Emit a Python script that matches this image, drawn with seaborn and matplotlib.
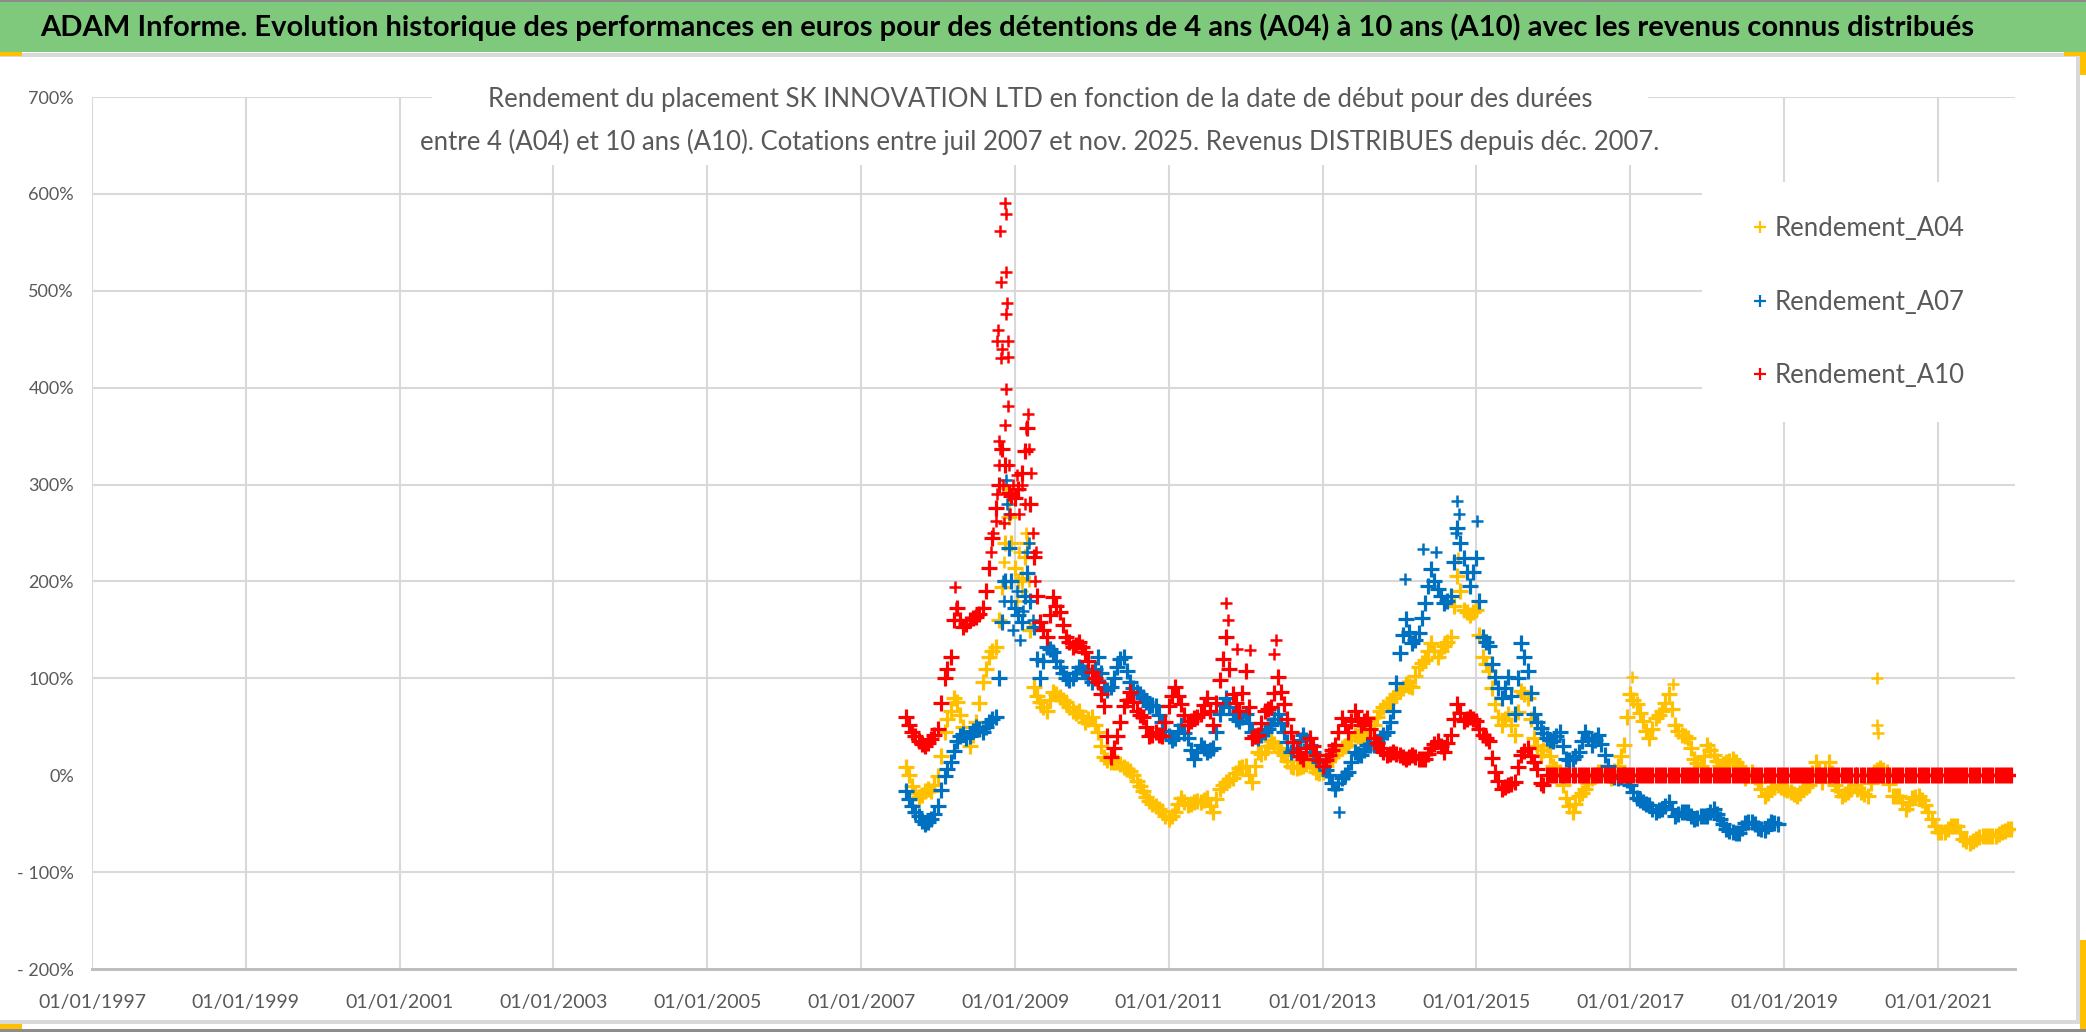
import matplotlib
matplotlib.use("Agg")
import matplotlib.pyplot as plt
import matplotlib.dates as mdates
import pandas as pd
import seaborn as sns
from matplotlib.lines import Line2D
from matplotlib.patches import Rectangle
from matplotlib.ticker import FuncFormatter

# readings in percent, one per month from Aug 2007 (1st of month) ...
a04 = [
    9, -11, -22, -16, -16,
    -1, 45, 66, 76, 50, 30, 55, 96, 122, 132, 194, 266,
    214, 204, 240, 91, 76, 66, 86, 81, 76, 66, 66, 55,
    60, 45, 19, 14, 14, 9, 4, -6, -16, -27, -32, -37,
    -45, -38, -24, -31, -28, -28, -24, -38, -14, -7, -3, 7,
    10, -7, 24, 24, 35, 28, 21, 10, 7, 10, 14, 3,
    3, 17, 21, 28, 31, 42, 38, 45, 52, 66, 73, 80,
    87, 94, 91, 112, 119, 136, 122, 133, 143, 206, 171, 165,
    171, 122, 108, 73, 52, 63, 42, 87, 80, 38, 21, 31,
    10, 3, -24, -38, -21, -14, -3, 3, 3, -3, 10, 31,
    84, 73, 56, 38, 59, 66, 84, 52, 42, 38, 17, 10,
    31, 21, 10, 14, 17, 10, -3, 3, -7, -21, -14, -10,
    -14, -17, -21, -14, -10, 14, -7, 14, -10, -21, -17, -10,
    -17, -21, 3, 7, 3, -21, -21, -35, -24, -21, -31, -45,
    -59, -59, -52, -52, -66, -70, -66, -63, -63, -63, -59, -56,
]
# ... and one per month at mid-month
a04_mid = [
    0, -18, -20, -14, -10,
    20, 58, 80, 62, 38, 42, 75, 110, 128, 160, 240, 240,
    200, 225, 150, 82, 70, 78, 84, 78, 70, 64, 60, 58,
    52, 30, 16, 14, 12, 6, 0, -11, -22, -30, -35, -42,
    -42, -30, -28, -30, -27, -26, -32, -25, -10, -5, 2, 9,
    0, 10, 22, 30, 32, 24, 15, 8, 8, 12, 8, 2,
    10, 19, 25, 30, 36, 40, 42, 48, 60, 70, 76, 84,
    90, 92, 102, 116, 128, 128, 128, 138, 175, 190, 168, 168,
    145, 115, 90, 60, 58, 52, 65, 84, 58, 30, 26, 20,
    6, -10, -32, -30, -18, -8, 0, 3, 0, 4, 20, 60,
    78, 64, 46, 48, 62, 75, 68, 46, 40, 28, 13, 20,
    26, 15, 12, 15, 14, 4, 0, -2, -14, -18, -12, -12,
    -15, -19, -18, -12, 2, 4, 4, 2, -15, -19, -14, -14,
    -19, -8, 5, 5, -9, -21, -28, -30, -22, -26, -38, -52,
    -59, -56, -52, -59, -68, -68, -64, -63, -63, -61, -58, -55,
]
a07 = [
    -16, -32, -42, -50, -45,
    -32, -1, 14, 35, 43, 40, 50, 45, 55, 60, 158, 235,
    173, 158, 209, 153, 100, 132, 127, 112, 100, 100, 112, 107,
    96, 122, 91, 91, 112, 122, 96, 86, 81, 71, 71, 55,
    40, 38, 52, 38, 17, 31, 24, 28, 63, 80, 63, 56,
    63, 45, 38, 45, 52, 63, 45, 24, 28, 42, 31, 17,
    10, 0, -14, -3, 3, 24, 21, 31, 31, 38, 45, 66,
    126, 161, 136, 147, 178, 213, 192, 178, 185, 255, 224, 195,
    224, 143, 133, 101, 80, 101, 63, 136, 108, 63, 49, 38,
    35, 45, 17, 17, 24, 45, 31, 42, 21, 0, -3, 0,
    -10, -24, -28, -31, -38, -35, -28, -42, -38, -38, -45, -42,
    -42, -35, -45, -56, -59, -60, -49, -48, -54, -57, -48, -50,
]
a07_mid = [
    -25, -38, -47, -48, -40,
    -15, 6, 25, 40, 38, 46, 48, 50, 58, 100, 200, 200,
    165, 185, 180, 120, 118, 130, 118, 105, 98, 106, 110, 100,
    110, 105, 88, 100, 120, 108, 90, 84, 76, 72, 62, 46,
    36, 46, 44, 26, 24, 28, 26, 45, 72, 70, 58, 60,
    54, 40, 42, 48, 58, 54, 34, 26, 36, 36, 24, 14,
    5, -8, -8, 0, 14, 22, 26, 31, 34, 42, 55, 95,
    145, 148, 140, 162, 195, 200, 185, 180, 220, 240, 210, 210,
    180, 138, 115, 90, 90, 82, 100, 122, 85, 55, 44, 36,
    40, 30, 16, 20, 35, 38, 36, 32, 10, -2, -2, -5,
    -17, -26, -30, -35, -36, -32, -35, -40, -38, -42, -44, -42,
    -38, -40, -50, -58, -60, -54, -48, -50, -56, -52, -49,
]
a10 = [
    60, 45, 35, 30, 37,
    48, 100, 122, 173, 153, 160, 163, 173, 214, 276, 337, 291,
    286, 312, 358, 225, 158, 143, 184, 168, 143, 132, 137, 127,
    107, 96, 71, 19, 40, 71, 86, 66, 60, 40, 45, 40,
    71, 91, 73, 52, 59, 63, 80, 52, 98, 143, 84, 66,
    108, 38, 42, 66, 70, 101, 73, 45, 24, 17, 38, 21,
    10, 21, 31, 59, 45, 66, 52, 59, 38, 28, 21, 24,
    21, 17, 21, 17, 17, 28, 35, 24, 42, 73, 56, 60,
    56, 42, 35, 3, -14, -10, -7, 21, 28, 14, -8, 0,
    0, 0, 0, 0, 0, 0, 0, 0, 0, 0, 0, 0,
    0, 0, 0, 0, 0, 0, 0, 0, 0, 0, 0, 0,
    0, 0, 0, 0, 0, 0, 0, 0, 0, 0, 0, 0,
    0, 0, 0, 0, 0, 0, 0, 0, 0, 0, 0, 0,
    0, 0, 0, 0, 0, 0, 0, 0, 0, 0, 0, 0,
    0, 0, 0, 0, 0, 0, 0, 0, 0, 0, 0, 0,
]
a10_mid = [
    52, 40, 32, 33, 42,
    75, 110, 160, 160, 156, 162, 166, 190, 245, 300, 320, 288,
    295, 335, 280, 185, 150, 165, 175, 155, 138, 134, 132, 118,
    100, 84, 40, 28, 55, 78, 76, 62, 50, 42, 42, 55,
    82, 82, 62, 56, 60, 72, 66, 75, 120, 110, 75, 85,
    70, 40, 54, 68, 85, 86, 58, 34, 20, 28, 30, 16,
    16, 26, 45, 52, 56, 58, 56, 48, 33, 24, 22, 22,
    19, 19, 19, 17, 22, 32, 30, 33, 58, 64, 58, 58,
    48, 38, 18, -6, -12, -9, 8, 25, 20, 6, -10, 0,
    0, 0, 0, 0, 0, 0, 0, 0, 0, 0, 0, 0,
    0, 0, 0, 0, 0, 0, 0, 0, 0, 0, 0, 0,
    0, 0, 0, 0, 0, 0, 0, 0, 0, 0, 0, 0,
    0, 0, 0, 0, 0, 0, 0, 0, 0, 0, 0, 0,
    0, 0, 0, 0, 0, 0, 0, 0, 0, 0, 0, 0,
    0, 0, 0, 0, 0, 0, 0, 0, 0, 0, 0, 0,
]
first_month = "2007-08-01"

# isolated points and cloud points
a04_extra_dates = ["2008-11-18", "2008-11-10", "2008-12-05", "2008-12-15", "2009-01-10", "2009-01-20",
                   "2009-02-05", "2009-02-20", "2009-03-10", "2014-10-05", "2017-01-10", "2017-07-20",
                   "2020-03-15", "2020-03-17", "2020-03-20"]
a04_extra = [296, 220, 280, 200, 180, 230, 190, 250, 200, 224, 101, 94, 100, 52, 44]
a07_extra_dates = ["2008-11-20", "2008-11-25", "2008-11-05", "2008-11-10", "2008-12-05", "2008-12-12",
                   "2008-12-20", "2009-01-10", "2009-01-25", "2009-02-10", "2009-02-25", "2009-03-10",
                   "2009-03-25", "2013-03-20", "2014-01-25", "2014-04-20", "2014-06-25", "2014-09-25",
                   "2014-10-01", "2014-10-08", "2015-01-05"]
a07_extra = [305, 280, 200, 180, 270, 180, 150, 190, 140, 170, 230, 240, 160, -38, 203, 234, 230, 250,
             283, 270, 262]
a10_extra_dates = ["2008-11-13", "2008-11-20", "2008-10-23", "2008-11-17", "2008-10-24", "2008-11-24",
                   "2008-11-21", "2008-10-12", "2008-10-05", "2008-11-28", "2008-10-30", "2008-10-25",
                   "2008-11-27", "2008-11-18", "2008-11-29", "2008-11-14", "2008-10-22", "2009-03-03",
                   "2009-02-24", "2009-03-10", "2009-03-20", "2008-03-22", "2008-03-28",
                   "2008-09-10", "2008-09-20", "2008-10-01", "2008-10-08", "2008-10-15", "2008-10-18",
                   "2008-11-03", "2008-11-08", "2008-12-05", "2008-12-10", "2008-12-20", "2009-01-08",
                   "2009-01-20", "2009-02-05", "2009-02-15", "2009-03-25", "2009-04-05", "2009-04-10",
                   "2011-10-01", "2011-10-10", "2011-11-20", "2012-01-20", "2012-05-15", "2012-05-25"]
a10_extra = [591, 579, 562, 519, 509, 487, 476, 460, 448, 448, 440, 431,
             432, 399, 381, 361, 337, 373, 358, 337, 312, 194, 173,
             230, 250, 262, 290, 320, 345, 300, 260, 320, 270, 300, 310,
             270, 300, 280, 250, 200, 230,
             178, 160, 130, 129, 125, 140]

series = ["Rendement_A04", "Rendement_A07", "Rendement_A10"]
colors = {"Rendement_A04": "#FFC000", "Rendement_A07": "#0070C0", "Rendement_A10": "#FF0000"}

frames = []
extras = []
for name, vals, mids, xd, xv in [
    (series[0], a04, a04_mid, a04_extra_dates, a04_extra),
    (series[1], a07, a07_mid, a07_extra_dates, a07_extra),
    (series[2], a10, a10_mid, a10_extra_dates, a10_extra),
]:
    d = pd.date_range(first_month, periods=len(vals), freq="MS")
    dm = pd.date_range(first_month, periods=len(mids), freq="MS") + pd.Timedelta(days=14)
    part = pd.concat([pd.DataFrame({"date": d, "rendement": vals}),
                      pd.DataFrame({"date": dm, "rendement": mids})]).sort_values("date")
    part["serie"] = name
    frames.append(part)
    extras.append(pd.DataFrame({"date": pd.to_datetime(xd), "rendement": xv, "serie": name}))
df = pd.concat(frames, ignore_index=True)
df_extra = pd.concat(extras, ignore_index=True)

sns.set_theme(style="white")
plt.rcParams["font.family"] = ["Lato", "DejaVu Sans"]

W, H = 2086, 1032
fig = plt.figure(figsize=(W / 100, H / 100), dpi=100)
fig.patch.set_facecolor("white")


def fx(px):
    return px / W


def fy(py):
    return 1 - py / H


def band(x0, y0, x1, y1, color):
    fig.add_artist(Rectangle((fx(x0), fy(y1)), (x1 - x0) / W, (y1 - y0) / H, transform=fig.transFigure,
                             facecolor=color, edgecolor="none"))


# frame decorations
band(0, 0, W, 52, "#7FC97D")
band(0, 0, W, 2, "#8C8C8C")
band(0, 53, 2080, 57, "#D9D9D9")
band(2076, 57, 2080, 1024, "#D9D9D9")
band(0, 1020, 2080, 1024, "#D9D9D9")
band(0, 1029, W, H, "#8C8C8C")
band(0, 1024, 22, 1029, "#FFC000")
band(0, 52, 22, 56, "#FFC000")
band(2064, 52, 2086, 56, "#FFC000")
band(2080, 52, 2086, 75, "#FFC000")
band(2080, 940, 2086, 1029, "#FFC000")

ax = fig.add_axes([fx(92), fy(969), fx(2015) - fx(92), fy(97) - fy(969)])

# draw the series one after the other so that A10 lies on top
for name in series:
    sns.scatterplot(data=df_extra[df_extra["serie"] == name], x="date", y="rendement", color=colors[name],
                    marker="+", s=75, linewidth=1.8, legend=False, ax=ax, zorder=2)
    sns.scatterplot(data=df[df["serie"] == name], x="date", y="rendement", color=colors[name],
                    marker="+", s=135, linewidth=2.3, legend=False, ax=ax, zorder=2)

ax.set_xlim(pd.Timestamp("1997-01-01"), pd.Timestamp("2022-01-01"))
ax.set_xticks([pd.Timestamp(f"{y}-01-01") for y in range(1997, 2022, 2)])
ax.xaxis.set_major_formatter(mdates.DateFormatter("%d/%m/%Y"))
ax.set_ylim(-200, 700)
ax.set_yticks(range(-200, 701, 100))
ax.yaxis.set_major_formatter(FuncFormatter(lambda v, p: f"- {abs(v):.0f}%" if v < 0 else f"{v:.0f}%"))
ax.set_xlabel("")
ax.set_ylabel("")

ax.set_axisbelow(True)
ax.grid(True, color="#D9D9D9", linewidth=1.5)
for g, t in zip(ax.yaxis.get_gridlines(), ax.get_yticks()):
    if t == 0 or t == -200:
        g.set_visible(False)
for s in ["top", "left", "right"]:
    ax.spines[s].set_visible(False)
ax.spines["bottom"].set_color("#BFBFBF")
ax.spines["bottom"].set_linewidth(2.2)
ax.tick_params(axis="x", length=0, labelsize=14, labelcolor="#595959", pad=18)
ax.tick_params(axis="y", length=0, labelsize=13, labelcolor="#595959", pad=13)

# white boxes behind the chart title and the legend
ax.add_patch(Rectangle((fx(432), fy(165)), fx(1648) - fx(432), fy(60) - fy(165), transform=fig.transFigure,
                       facecolor="white", edgecolor="none", zorder=0.8, clip_on=False))
ax.add_patch(Rectangle((fx(1702), fy(422)), fx(2015) - fx(1702), fy(182) - fy(422), transform=fig.transFigure,
                       facecolor="white", edgecolor="none", zorder=0.8, clip_on=False))

handles = [Line2D([], [], marker="+", linestyle="", color=colors[n], markersize=9, markeredgewidth=1.6)
           for n in series]
ax.legend(handles, series, loc="center left", bbox_to_anchor=(fx(1754), fy(302)), bbox_transform=fig.transFigure,
          frameon=False, fontsize=18.5, labelcolor="#595959", handlelength=0.5, handletextpad=0.3,
          labelspacing=1.9, borderpad=0, borderaxespad=0)

fig.text(fx(1007), fy(27), "ADAM Informe. Evolution historique des performances en euros pour des détentions "
         "de 4 ans (A04) à 10 ans (A10) avec les revenus connus distribués",
         ha="center", va="center", fontsize=21, fontweight="bold", color="black", zorder=5)
fig.text(fx(1040), fy(100), "Rendement du placement SK INNOVATION LTD en fonction de la date de début pour des durées",
         ha="center", va="center", fontsize=18.5, color="#595959", zorder=5)
fig.text(fx(1040), fy(142), "entre 4 (A04) et 10 ans (A10). Cotations entre juil 2007 et nov. 2025. "
         "Revenus DISTRIBUES depuis déc. 2007.",
         ha="center", va="center", fontsize=18.5, color="#595959", zorder=5)

fig.savefig("out.png", dpi=100)
